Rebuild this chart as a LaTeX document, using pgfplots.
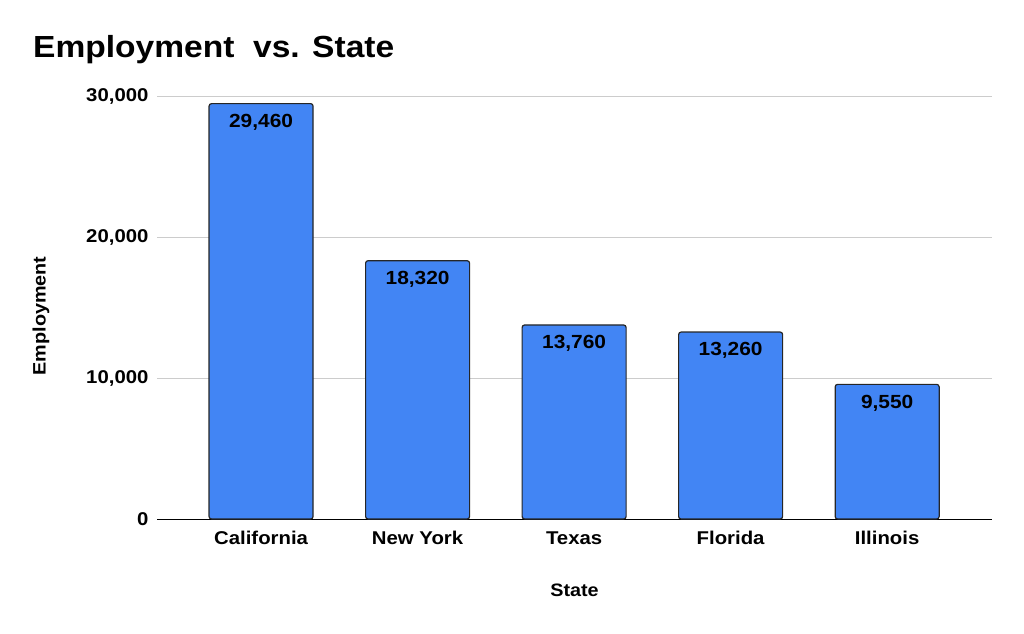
\documentclass[border=0pt]{standalone}
\usepackage{pgfplots}
\pgfplotsset{compat=1.18}
\usepackage{fontspec}
\setmainfont{Liberation Sans}[FakeStretch=1.1]
\definecolor{barblue}{HTML}{4285F4}
\definecolor{gridgray}{HTML}{CCCCCC}
\begin{document}
\begin{tikzpicture}[x=1pt,y=1pt]
\path (0,0) rectangle (1024,633);
\node[anchor=base west,inner sep=0,font=\fontsize{30.5}{32}\selectfont\bfseries] at (33,575) {Employment\ \ vs. State};
\begin{axis}[
  at={(157pt,114pt)}, anchor=south west,
  width=835pt, height=423pt, scale only axis,
  xmin=-0.665, xmax=4.67, ymin=0, ymax=30000,
  ybar, bar width=104pt,
  xtick={0,1,2,3,4},
  xticklabels={California,New York,Texas,Florida,Illinois},
  ytick={0,10000,20000,30000},
  scaled y ticks=false,
  /pgf/number format/.cd, fixed, 1000 sep={,}, assume math mode=true, /pgfplots/.cd,
  major tick length=0pt,
  axis x line=bottom, axis y line=left,
  axis line style={-},
  y axis line style={draw=none},
  x axis line style={black, line width=1pt},
  ymajorgrids, grid style={gridgray, line width=0.8pt},
  tick label style={font=\fontsize{18.5}{20}\selectfont\bfseries},
  yticklabel style={xshift=-5pt},
  xticklabel style={yshift=-9pt},
  xlabel={State}, ylabel={Employment},
  label style={font=\fontsize{18}{20}\selectfont\bfseries},
  xlabel style={at={(axis description cs:0.5,0)}, anchor=center, yshift=-71pt},
  ylabel style={at={(axis description cs:0,0.48)}, anchor=center, rotate=0, yshift=116pt},
  nodes near coords,
  every node near coord/.append style={anchor=north, inner sep=0pt, yshift=-10pt, font=\fontsize{19}{20}\selectfont\bfseries, black},
  clip=false,
]
\addplot[fill=barblue, draw=black!85, line width=1.2pt, rounded corners=2.5pt] coordinates {(0,29460) (1,18320) (2,13760) (3,13260) (4,9550)};
\end{axis}
\end{tikzpicture}
\end{document}
